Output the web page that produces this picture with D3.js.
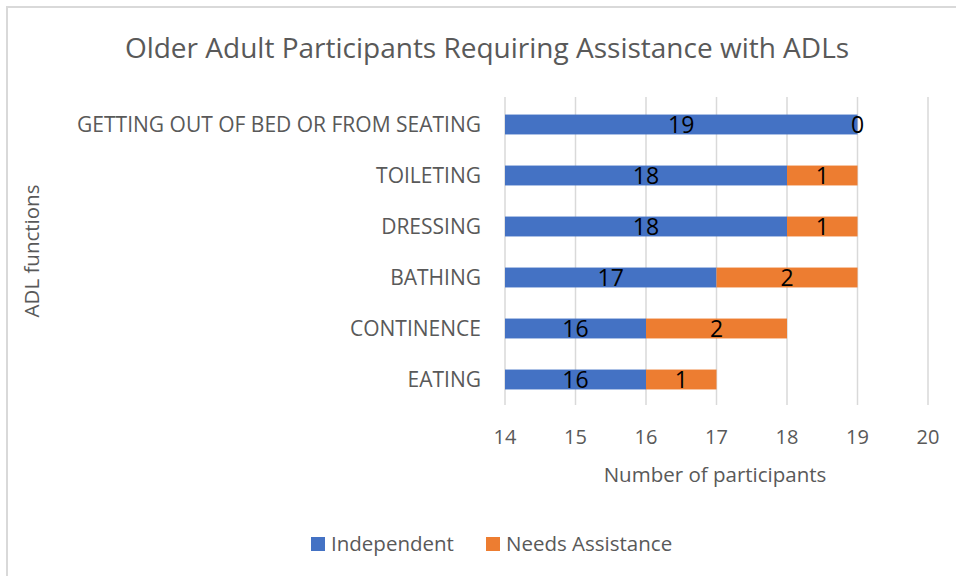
<!DOCTYPE html>
<html>
<head>
<meta charset="utf-8">
<script src="https://cdn.jsdelivr.net/npm/d3@7"></script>
<style>
  body { margin: 0; background: #fff; }
  text { font-family: "Open Sans", sans-serif; }
</style>
</head>
<body>
<div id="chart"></div>
<script>
// data, top row first
const categories = ["GETTING OUT OF BED OR FROM SEATING", "TOILETING", "DRESSING", "BATHING", "CONTINENCE", "EATING"];
const independent = [19, 18, 18, 17, 16, 16];
const needsAssistance = [0, 1, 1, 2, 2, 1];
const xTicks = [14, 15, 16, 17, 18, 19, 20];
const seriesNames = ["Independent", "Needs Assistance"];

const width = 956;
const height = 576;

const BLUE = "#4472c4";
const ORANGE = "#ed7d31";
const TEXT_GRAY = "#595959";
const GRID = "#d9d9d9";

const margin = { left: 505, right: 28, top: 99, bottom: 171 };

const svg = d3.select("#chart")
  .append("svg")
  .attr("width", width)
  .attr("height", height);

// outer chart border (runs past the right and bottom edges)
svg.append("rect")
  .attr("x", 7).attr("y", 7)
  .attr("width", 980).attr("height", 600)
  .attr("fill", "white")
  .attr("stroke", GRID)
  .attr("stroke-width", 2);

const x = d3.scaleLinear()
  .domain([14, 20])
  .range([margin.left, width - margin.right]);

const y = d3.scaleBand()
  .domain(categories)
  .range([margin.top, height - margin.bottom])
  .paddingInner(0.61)
  .paddingOuter(0.305);

// gridlines
svg.append("g")
  .selectAll("line")
  .data(xTicks)
  .enter()
  .append("line")
  .attr("x1", d => x(d)).attr("x2", d => x(d))
  .attr("y1", margin.top - 2)
  .attr("y2", height - margin.bottom)
  .attr("stroke", GRID)
  .attr("stroke-width", 1.5);

// stacked rows
const rows = categories.map((c, i) => ({
  name: c,
  ind: independent[i],
  ast: needsAssistance[i]
}));

svg.append("g")
  .selectAll("rect")
  .data(rows)
  .enter()
  .append("rect")
  .attr("x", x(14))
  .attr("y", d => y(d.name))
  .attr("width", d => x(d.ind) - x(14))
  .attr("height", y.bandwidth())
  .attr("fill", BLUE);

svg.append("g")
  .selectAll("rect")
  .data(rows)
  .enter()
  .append("rect")
  .attr("x", d => x(d.ind))
  .attr("y", d => y(d.name))
  .attr("width", d => x(d.ind + d.ast) - x(d.ind))
  .attr("height", y.bandwidth())
  .attr("fill", ORANGE);

// data labels
svg.append("g")
  .selectAll("text")
  .data(rows)
  .enter()
  .append("text")
  .attr("x", d => (x(14) + x(d.ind)) / 2)
  .attr("y", d => y(d.name) + y.bandwidth() / 2)
  .attr("dy", "0.36em")
  .attr("text-anchor", "middle")
  .style("font-size", "23px")
  .style("fill", "#000")
  .text(d => d.ind);

svg.append("g")
  .selectAll("text")
  .data(rows)
  .enter()
  .append("text")
  .attr("x", d => (x(d.ind) + x(d.ind + d.ast)) / 2)
  .attr("y", d => y(d.name) + y.bandwidth() / 2)
  .attr("dy", "0.36em")
  .attr("text-anchor", "middle")
  .style("font-size", "23px")
  .style("fill", "#000")
  .text(d => d.ast);

// category labels
svg.append("g")
  .selectAll("text")
  .data(categories)
  .enter()
  .append("text")
  .attr("x", margin.left - 24)
  .attr("y", d => y(d) + y.bandwidth() / 2)
  .attr("dy", "0.36em")
  .attr("text-anchor", "end")
  .style("font-size", "21px")
  .style("fill", TEXT_GRAY)
  .text(d => d);

// x tick labels
svg.append("g")
  .selectAll("text")
  .data(xTicks)
  .enter()
  .append("text")
  .attr("x", d => x(d))
  .attr("y", 437)
  .attr("dy", "0.36em")
  .attr("text-anchor", "middle")
  .style("font-size", "20px")
  .style("fill", TEXT_GRAY)
  .text(d => d);

// axis titles
svg.append("text")
  .attr("x", 715).attr("y", 475)
  .attr("dy", "0.36em")
  .attr("text-anchor", "middle")
  .style("font-size", "20.5px")
  .style("fill", TEXT_GRAY)
  .text("Number of participants");

svg.append("text")
  .attr("transform", "translate(32,251) rotate(-90)")
  .attr("dy", "0.36em")
  .attr("text-anchor", "middle")
  .style("font-size", "20.5px")
  .style("fill", TEXT_GRAY)
  .text("ADL functions");

// title
svg.append("text")
  .attr("x", 487).attr("y", 48)
  .attr("dy", "0.36em")
  .attr("text-anchor", "middle")
  .style("font-size", "28px")
  .style("fill", TEXT_GRAY)
  .text("Older Adult Participants Requiring Assistance with ADLs");

// legend
const legendX = [311, 486];
const legend = svg.append("g")
  .selectAll("g")
  .data(seriesNames)
  .enter()
  .append("g")
  .attr("transform", (d, i) => `translate(${legendX[i]},544)`);

legend.append("rect")
  .attr("x", 0).attr("y", -7)
  .attr("width", 14).attr("height", 14)
  .attr("fill", (d, i) => i === 0 ? BLUE : ORANGE);

legend.append("text")
  .attr("x", 20)
  .attr("dy", "0.36em")
  .style("font-size", "20.5px")
  .style("fill", TEXT_GRAY)
  .text(d => d);
</script>
</body>
</html>
